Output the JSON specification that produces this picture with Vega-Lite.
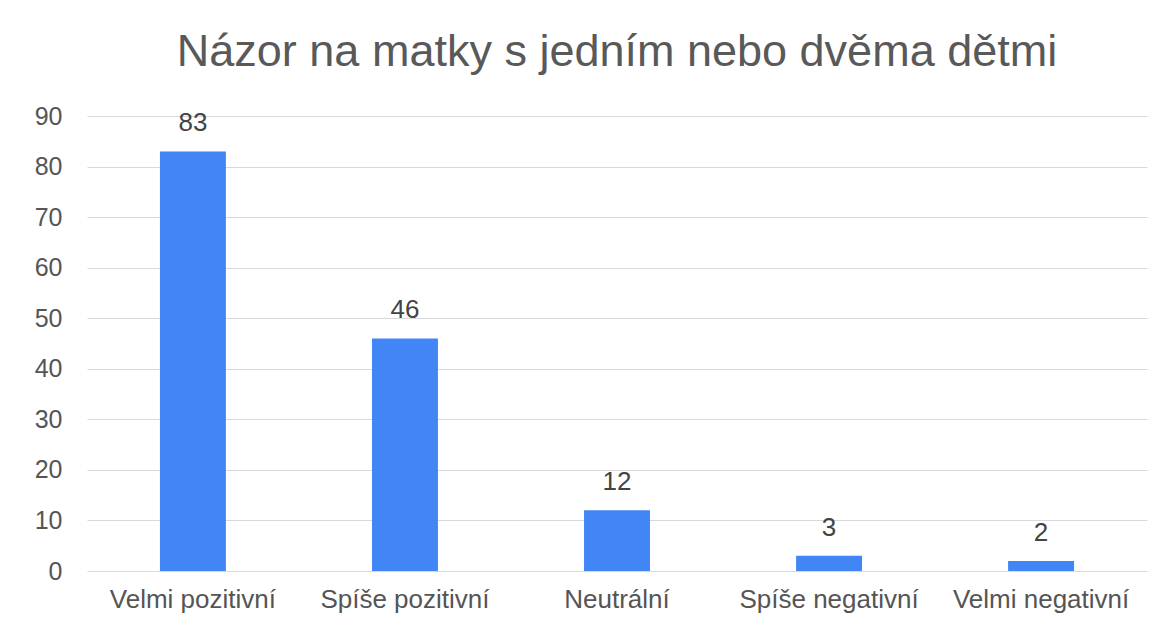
{
  "$schema": "https://vega.github.io/schema/vega-lite/v6.json",
  "width": 1060,
  "height": 455,
  "autosize": {"type": "none"},
  "padding": {"left": 87, "top": 116, "right": 24, "bottom": 57},
  "background": "white",
  "config": {
    "view": {"stroke": null},
    "font": "Liberation Sans"
  },
  "title": {
    "text": "Názor na matky s jedním nebo dvěma dětmi",
    "fontSize": 45,
    "fontWeight": "normal",
    "color": "#595959",
    "font": "Liberation Sans",
    "anchor": "middle",
    "offset": 29
  },
  "data": {
    "values": [
      {"kategorie": "Velmi pozitivní", "pocet": 83},
      {"kategorie": "Spíše pozitivní", "pocet": 46},
      {"kategorie": "Neutrální", "pocet": 12},
      {"kategorie": "Spíše negativní", "pocet": 3},
      {"kategorie": "Velmi negativní", "pocet": 2}
    ]
  },
  "encoding": {
    "x": {
      "field": "kategorie",
      "type": "nominal",
      "sort": null,
      "scale": {"paddingInner": 0.689, "paddingOuter": 0.344},
      "axis": {
        "title": null,
        "labelAngle": 0,
        "labelFontSize": 26,
        "labelColor": "#555555",
        "labelPadding": 15,
        "labelOverlap": false,
        "labelBound": false,
        "ticks": false,
        "domain": false
      }
    },
    "y": {
      "field": "pocet",
      "type": "quantitative",
      "scale": {"domain": [0, 90], "nice": false},
      "axis": {
        "title": null,
        "values": [0, 10, 20, 30, 40, 50, 60, 70, 80, 90],
        "labelFontSize": 25,
        "labelColor": "#555555",
        "labelPadding": 25,
        "ticks": false,
        "domain": false,
        "gridColor": "#d9d9d9",
        "gridWidth": 1.2
      }
    }
  },
  "layer": [
    {"mark": {"type": "bar", "color": "#4285F4"}},
    {
      "mark": {
        "type": "text",
        "baseline": "middle",
        "dy": -28,
        "fontSize": 26,
        "color": "#444444"
      },
      "encoding": {"text": {"field": "pocet", "type": "quantitative"}}
    }
  ]
}
